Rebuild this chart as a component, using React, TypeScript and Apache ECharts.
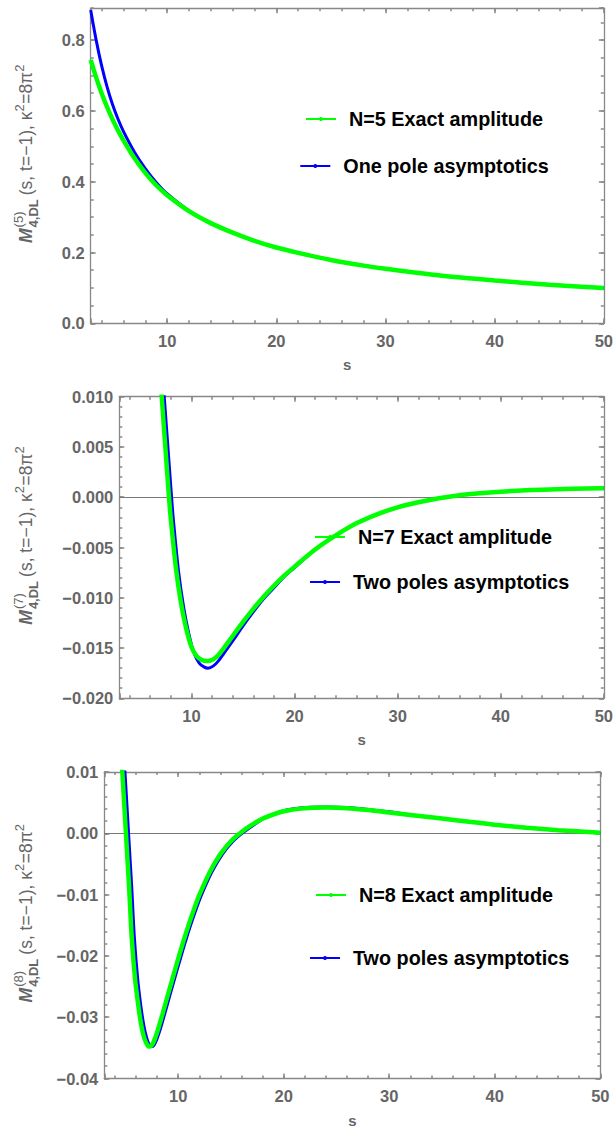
import React, { useEffect, useRef } from "react";
import * as echarts from "echarts";

// ---------- data ----------
// Panel 1 (N=5)
const p1S = [3, 3.5, 4, 4.5, 5, 5.5, 6, 7, 8, 9, 10, 12, 14, 16, 18, 20, 22, 25, 28, 30, 35, 40, 45, 50];
const p1Exact = [0.744, 0.694, 0.65, 0.611, 0.576, 0.545, 0.517, 0.467, 0.425, 0.39, 0.362, 0.317, 0.283, 0.256, 0.233, 0.214, 0.199, 0.179, 0.163, 0.154, 0.135, 0.121, 0.109, 0.1];
const p1Pole = [0.885, 0.8, 0.728, 0.668, 0.618, 0.577, 0.542, 0.484, 0.437, 0.398, 0.366, 0.318, 0.283, 0.256, 0.233, 0.214, 0.199, 0.179, 0.163, 0.154, 0.135, 0.121, 0.109, 0.1];

// Panel 2 (N=7)
const p2ExactS = [6.9, 7.1, 7.5, 7.82, 8.0, 8.5, 9.0, 9.5, 10.0, 10.5, 11.0, 11.5, 12.0, 12.5, 13.0, 14, 15, 16, 17, 18, 19, 20, 22, 24, 26, 28, 30, 32, 34, 36, 38, 40, 42, 44, 47, 50];
const p2Exact = [0.0133, 0.0102, 0.0045, 0.0, -0.0022, -0.0071, -0.0106, -0.0131, -0.0149, -0.0158, -0.0162, -0.0163, -0.0162, -0.0158, -0.0152, -0.0138, -0.0124, -0.0111, -0.0099, -0.0088, -0.0078, -0.0069, -0.0052, -0.0038, -0.0026, -0.0017, -0.001, -0.0005, -0.0001, 0.0002, 0.0004, 0.00055, 0.00066, 0.00075, 0.00084, 0.0009];
const p2PoleS = [7.15, 7.36, 7.6, 7.85, 8.07, 8.25, 8.75, 9.25, 9.75, 10.25, 10.75, 11.25, 11.6, 12.1, 12.6, 13.1, 14, 15, 16, 17, 18, 19, 20, 22, 24, 26, 28, 30, 32, 34, 36, 38, 40, 42, 44, 47, 50];
const p2Pole = [0.013, 0.01, 0.0066, 0.0031, 0.0, -0.0023, -0.0074, -0.011, -0.0136, -0.0155, -0.0165, -0.0169, -0.017, -0.0168, -0.0163, -0.0156, -0.0143, -0.0128, -0.0114, -0.0101, -0.009, -0.0079, -0.007, -0.0052, -0.0038, -0.0026, -0.0017, -0.001, -0.0005, -0.0001, 0.0002, 0.0004, 0.00055, 0.00066, 0.00075, 0.00084, 0.0009];

// Panel 3 (N=8)
const p3ExactS = [4.5, 4.6, 4.75, 4.9, 5.05, 5.2, 5.35, 5.6, 5.9, 6.2, 6.5, 6.8, 7.1, 7.3, 7.6, 8.0, 8.5, 9.0, 9.5, 10.0, 10.5, 11.0, 11.5, 12.0, 13.0, 14.0, 15.0, 16.0, 17.0, 18.0, 20, 22, 24, 26, 28, 30, 32, 35, 38, 40, 43, 46, 50];
const p3Exact = [0.016, 0.013, 0.0088, 0.0044, 0.0, -0.0044, -0.0088, -0.017, -0.0235, -0.0278, -0.0313, -0.0335, -0.0346, -0.0348, -0.0343, -0.0325, -0.0296, -0.0265, -0.0235, -0.0205, -0.0176, -0.0149, -0.0124, -0.0101, -0.0063, -0.0034, -0.0013, 0.0002, 0.0014, 0.0024, 0.0036, 0.0041, 0.0042, 0.0041, 0.0038, 0.0034, 0.003, 0.0024, 0.0018, 0.0014, 0.0009, 0.0005, 0.0001];
const p3PoleS = [4.75, 4.85, 5.0, 5.15, 5.3, 5.45, 5.6, 5.85, 6.15, 6.45, 6.75, 7.05, 7.3, 7.5, 7.8, 8.2, 8.7, 9.2, 9.7, 10.2, 10.7, 11.2, 11.7, 12.2, 13.2, 14.2, 15.2, 16.2, 17.2, 18.2, 20, 22, 24, 26, 28, 30, 32, 35, 38, 40, 43, 46, 50];
const p3Pole = [0.016, 0.013, 0.0088, 0.0044, 0.0, -0.0044, -0.0088, -0.017, -0.0235, -0.028, -0.0314, -0.0336, -0.0346, -0.0348, -0.0343, -0.0325, -0.0296, -0.0265, -0.0235, -0.0205, -0.0176, -0.0149, -0.0124, -0.0101, -0.0063, -0.0034, -0.0013, 0.0002, 0.0014, 0.0025, 0.0037, 0.0042, 0.0043, 0.0042, 0.0039, 0.0035, 0.003, 0.0024, 0.0018, 0.0014, 0.0009, 0.0005, 0.0001];

const legendNames = [
  ["N=5 Exact amplitude", "One pole asymptotics"],
  ["N=7 Exact amplitude", "Two poles asymptotics"],
  ["N=8 Exact amplitude", "Two poles asymptotics"],
];
const superscripts = ["5", "7", "8"];
const yRanges = [
  [0, 0.89, 0.2, 0.05, 1],
  [-0.02, 0.01, 0.005, 0.001, 3],
  [-0.04, 0.01, 0.01, 0.002, 2],
];
const xRange = [3, 50];

// ---------- styling ----------
const FONT = "'Liberation Sans', Arial, Helvetica, sans-serif";
const GREEN = "#00ff00";
const BLUE = "#0000ff";
const AXIS = "#888888";
const LABEL = "#666666";

const grids = [
  { left: 90.7, top: 8.24, width: 514.6, height: 315.06 },
  { left: 119.3, top: 396.7, width: 485, height: 301.6 },
  { left: 104.3, top: 772, width: 496, height: 306.5 },
];
const legendPos = [
  [{ left: 305, cy: 119 }, { left: 299.3, cy: 166 }],
  [{ left: 314, cy: 537 }, { left: 309, cy: 582 }],
  [{ left: 315, cy: 895 }, { left: 309, cy: 958 }],
];

const zip = (xs: number[], ys: number[]) => xs.map((x, i) => [x, ys[i]]);

let ctx: CanvasRenderingContext2D | null = null;
function measure(text: string, font: string) {
  if (!ctx) ctx = document.createElement("canvas").getContext("2d");
  if (!ctx) return text.length * 8;
  ctx.font = font;
  return ctx.measureText(text).width;
}

function yName(n: string, cx: number, cy: number) {
  const F = 17.5;
  const f = 13;
  const children: any[] = [];
  const txt = (text: string, x: number, y: number, size: number, weight = "normal", style = "normal") => {
    children.push({
      type: "text",
      x,
      y,
      style: {
        text,
        fontSize: size,
        fontFamily: FONT,
        fontWeight: weight,
        fontStyle: style,
        fill: LABEL,
        align: "left",
        verticalAlign: "middle",
      },
    });
    return measure(text, `${style} ${weight} ${size}px ${FONT}`);
  };
  let x = 0;
  x += txt("M", x, 0, F, "bold", "italic") + 1;
  const w1 = txt(`(${n})`, x, -8, f);
  const w2 = txt("4,DL", x, 7, f, "bold");
  x += Math.max(w1, w2) + 4;
  x += txt("(s, t=\u22121), \u03ba", x, 0, F);
  x += txt("2", x, -7, f) + 0.5;
  x += txt("=8\u03c0", x, 0, F);
  x += txt("2", x, -7, f);
  return { type: "group", x: cx, y: cy + x / 2, rotation: Math.PI / 2, children };
}

function fmt(v: number, d: number) {
  if (Math.abs(v) < 1e-12) return (0).toFixed(d);
  return v < 0 ? "\u2212" + Math.abs(v).toFixed(d) : v.toFixed(d);
}

export default function App() {
  const ref = useRef<HTMLDivElement>(null);
  useEffect(() => {
    if (!ref.current) return;
    const chart = echarts.init(ref.current, undefined, { renderer: "svg" });
    const xAxis: any[] = [];
    const yAxis: any[] = [];
    const series: any[] = [];
    const legend: any[] = [];
    const graphic: any[] = [];
    const data = [
      [zip(p1S, p1Exact), zip(p1S, p1Pole)],
      [zip(p2ExactS, p2Exact), zip(p2PoleS, p2Pole)],
      [zip(p3ExactS, p3Exact), zip(p3PoleS, p3Pole)],
    ];
    const tick = (len: number) => ({
      show: true,
      inside: true,
      length: len,
      lineStyle: { color: AXIS, width: 1.5 },
    });
    const frameLine = { show: true, onZero: false, lineStyle: { color: AXIS, width: 1.3 } };
    const noLine = { show: false, onZero: false };
    grids.forEach((g, i) => {
      const [ymin, ymax, yint, yminor, dec] = yRanges[i];
      const baseX = {
        type: "value",
        gridIndex: i,
        min: xRange[0],
        max: xRange[1],
        splitLine: { show: false },
        axisLine: frameLine,
        axisTick: tick(5),
        axisLabel: { show: false },
      };
      xAxis.push({
        ...baseX,
        position: "bottom",
        splitNumber: 5,
        name: "s",
        nameLocation: "middle",
        nameGap: 34,
        nameTextStyle: { color: LABEL, fontSize: 15, fontWeight: "bold", fontFamily: FONT },
        axisLabel: {
          show: true,
          margin: 9,
          color: LABEL,
          fontSize: 16.5,
          fontWeight: "bold",
          fontFamily: FONT,
          formatter: (v: number) => (Math.abs(v - Math.round(v / 10) * 10) < 1e-6 ? String(Math.round(v)) : ""),
        },
      });
      xAxis.push({ ...baseX, position: "bottom", splitNumber: 24, axisLine: noLine, axisTick: tick(3) });
      xAxis.push({ ...baseX, position: "top", splitNumber: 5 });
      xAxis.push({ ...baseX, position: "top", splitNumber: 24, axisLine: noLine, axisTick: tick(3) });

      const baseY = {
        type: "value",
        gridIndex: i,
        min: ymin,
        max: ymax,
        splitLine: { show: false },
        axisLine: frameLine,
        axisTick: tick(5),
        axisLabel: { show: false },
      };
      yAxis.push({
        ...baseY,
        position: "left",
        interval: yint,
        axisLabel: {
          show: true,
          margin: 6,
          color: LABEL,
          fontSize: 16.5,
          fontWeight: "bold",
          fontFamily: FONT,
          showMaxLabel: i === 0 ? false : true,
          formatter: (v: number) => fmt(v, dec),
        },
      });
      yAxis.push({ ...baseY, position: "left", interval: yminor, axisLine: noLine, axisTick: tick(3) });
      yAxis.push({ ...baseY, position: "right", interval: yint });
      yAxis.push({ ...baseY, position: "right", interval: yminor, axisLine: noLine, axisTick: tick(3) });

      const blue: any = {
        type: "line",
        name: legendNames[i][1],
        xAxisIndex: i * 4,
        yAxisIndex: i * 4,
        data: data[i][1],
        smooth: 0.3,
        symbol: "circle",
        showSymbol: false,
        lineStyle: { color: BLUE, width: 3 },
        itemStyle: { color: BLUE },
        z: 3,
      };
      if (i > 0) {
        blue.markLine = {
          silent: true,
          symbol: "none",
          label: { show: false },
          lineStyle: { color: "#777777", width: 1, type: "solid" },
          data: [{ yAxis: 0 }],
          z: 2,
        };
      }
      series.push(blue);
      series.push({
        type: "line",
        name: legendNames[i][0],
        xAxisIndex: i * 4,
        yAxisIndex: i * 4,
        data: data[i][0],
        smooth: 0.3,
        symbol: "circle",
        showSymbol: false,
        lineStyle: { color: GREEN, width: 4.5 },
        itemStyle: { color: GREEN },
        z: 4,
      });

      legendNames[i].forEach((nm, k) => {
        const p = legendPos[i][k];
        legend.push({
          data: [nm],
          left: p.left,
          top: p.cy - 10,
          orient: "vertical",
          padding: 0,
          itemGap: 0,
          itemWidth: 30,
          itemHeight: 5,
          selectedMode: false,
          textStyle: {
            fontSize: 19.8,
            lineHeight: 20,
            fontWeight: "bold",
            color: "#000000",
            fontFamily: FONT,
            padding: [0, 0, 0, 8],
          },
        });
      });

      graphic.push(yName(superscripts[i], 26, g.top + g.height / 2 - 12));
    });

    chart.setOption({
      animation: false,
      backgroundColor: "#ffffff",
      grid: grids,
      xAxis,
      yAxis,
      series,
      legend,
      graphic,
    });
    return () => chart.dispose();
  }, []);
  return <div ref={ref} style={{ position: "absolute", left: 0, top: 0, width: 616, height: 1137 }} />;
}
